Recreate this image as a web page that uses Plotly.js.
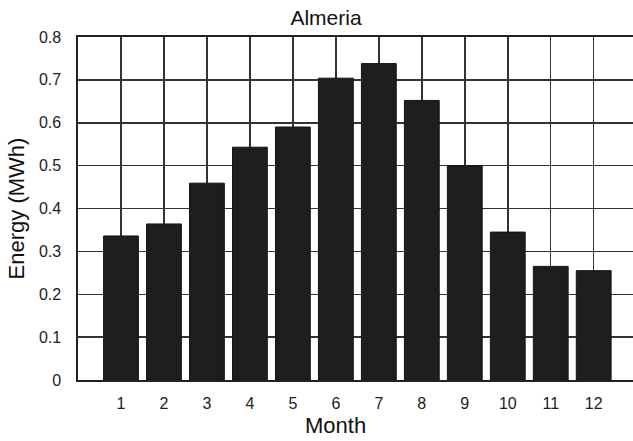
<!DOCTYPE html>
<html>
<head>
<meta charset="utf-8">
<script src="https://cdn.plot.ly/plotly-3.0.1.min.js"></script>
<style>html,body{margin:0;padding:0;background:#fff;overflow:hidden}</style>
</head>
<body>
<div id="chart" style="width:633px;height:441px"></div>
<script>
const months = [1, 2, 3, 4, 5, 6, 7, 8, 9, 10, 11, 12];
const monthLabels = ['1', '2', '3', '4', '5', '6', '7', '8', '9', '10', '11', '12'];
const energyMWh = [0.336, 0.364, 0.459, 0.543, 0.590, 0.704, 0.738, 0.652, 0.500, 0.345, 0.265, 0.255];
const yTicks = [0, 0.1, 0.2, 0.3, 0.4, 0.5, 0.6, 0.7, 0.8];
const yTickLabels = ['0', '0.1', '0.2', '0.3', '0.4', '0.5', '0.6', '0.7', '0.8'];

const font = 'Arial, "Liberation Sans", Helvetica, sans-serif';

const trace = {
  type: 'bar',
  x: months,
  y: energyMWh,
  width: 0.81,
  marker: {color: '#1e1e1e', line: {color: '#141414', width: 1}},
  hoverinfo: 'x+y'
};

const layout = {
  width: 633,
  height: 441,
  margin: {l: 78, r: 0, t: 37, b: 61, pad: 0},
  paper_bgcolor: '#ffffff',
  plot_bgcolor: '#ffffff',
  font: {family: font, color: '#222222'},
  showlegend: false,
  title: {
    text: 'Almeria',
    font: {family: font, size: 21, color: '#111111'},
    x: 326 / 633, xref: 'container', xanchor: 'center',
    y: 1 - 18 / 441, yref: 'container', yanchor: 'middle'
  },
  xaxis: {
    range: [0, 12.914],
    tickmode: 'array',
    tickvals: months,
    ticktext: monthLabels,
    ticks: '',
    ticklabelstandoff: 8,
    tickfont: {family: font, size: 16, color: '#222222'},
    showgrid: true,
    gridcolor: '#333333',
    gridwidth: 1.5,
    zeroline: false,
    showline: true,
    linecolor: '#222222',
    linewidth: 1.6,
    mirror: true,
    fixedrange: true
  },
  yaxis: {
    range: [0, 0.8],
    tickmode: 'array',
    tickvals: yTicks,
    ticktext: yTickLabels,
    ticks: '',
    ticklabelstandoff: 12,
    tickfont: {family: font, size: 16, color: '#222222'},
    showgrid: true,
    gridcolor: '#333333',
    gridwidth: 1.5,
    zeroline: false,
    showline: true,
    linecolor: '#222222',
    linewidth: 1.6,
    mirror: false,
    automargin: false,
    title: {text: 'Energy (MWh)', font: {family: font, size: 22, color: '#111111'}, standoff: 8},
    fixedrange: true
  },
  annotations: [{
    text: 'Month',
    xref: 'paper', yref: 'paper',
    x: (335 - 78) / 555, y: (380.3 - 425.5) / 343,
    xanchor: 'center', yanchor: 'middle',
    showarrow: false,
    font: {family: font, size: 22, color: '#111111'}
  }]
};

Plotly.newPlot('chart', [trace], layout, {displayModeBar: false, staticPlot: true});
</script>
</body>
</html>
